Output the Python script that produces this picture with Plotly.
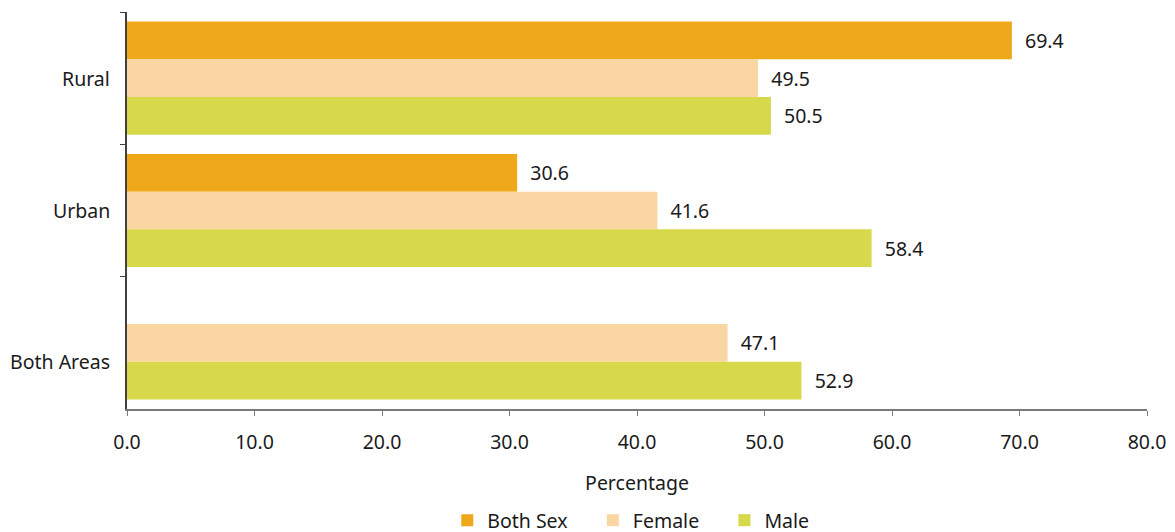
import plotly.graph_objects as go

categories = ["Rural", "Urban", "Both Areas"]
both_sex = [69.4, 30.6, None]
female = [49.5, 41.6, 47.1]
male = [50.5, 58.4, 52.9]
x_ticks = [0, 10, 20, 30, 40, 50, 60, 70, 80]
# category label positions (Both Areas label centred on its two bars)
label_pos = [0, 1, 2.1425]

series = [
    ("Both Sex", both_sex, "#EFA81A"),
    ("Female", female, "#F9D6A2"),
    ("Male", male, "#D7D94B"),
]

FONT = "Noto Sans, Lato, sans-serif"
FS = 19.5

fig = go.Figure()
for name, vals, col in series:
    fig.add_trace(go.Bar(
        y=categories, x=vals, name=name + "    ", orientation="h",
        marker=dict(color=col, line=dict(width=0)),
        text=[("  %.1f" % v) if v is not None else "" for v in vals],
        textposition="outside", cliponaxis=False,
        textfont=dict(size=FS, color="#1a1a1a"),
    ))

for cat, pos in zip(categories, label_pos):
    fig.add_annotation(
        x=0, xref="paper", xanchor="right", xshift=-15,
        y=pos, yref="y", yanchor="middle",
        text=cat, showarrow=False, font=dict(size=FS, color="#1a1a1a"),
    )

# the page body adds an 8px offset; margins compensate for it
fig.update_layout(
    width=1175, height=532,
    margin=dict(l=119, r=36, t=4, b=131, autoexpand=False),
    barmode="group", bargap=0.145, bargroupgap=0,
    plot_bgcolor="white", paper_bgcolor="white",
    font=dict(family=FONT, size=FS, color="#1a1a1a"),
    showlegend=True,
    legend=dict(orientation="h", x=0.314, xanchor="left",
                yref="container", y=0.0, yanchor="bottom",
                font=dict(size=FS), itemwidth=30, tracegroupgap=0,
                traceorder="normal"),
)
fig.update_xaxes(
    range=[0, 80], tickvals=x_ticks, ticktext=["%.1f" % t for t in x_ticks],
    showgrid=False, zeroline=False, automargin=False,
    showline=True, linecolor="#7a7a7a", linewidth=1.5,
    ticks="outside", ticklen=5, tickcolor="#7a7a7a",
    ticklabelstandoff=10,
    tickfont=dict(size=FS),
    title=dict(text="Percentage", font=dict(size=FS), standoff=22),
)
fig.update_yaxes(
    categoryorder="array", categoryarray=categories, autorange="reversed",
    showgrid=False, zeroline=False, automargin=False,
    showline=True, linecolor="#404040", linewidth=1.5,
    ticks="outside", ticklen=5, tickcolor="#404040", tickson="boundaries",
    showticklabels=False,
)

fig.write_html("out.html")
